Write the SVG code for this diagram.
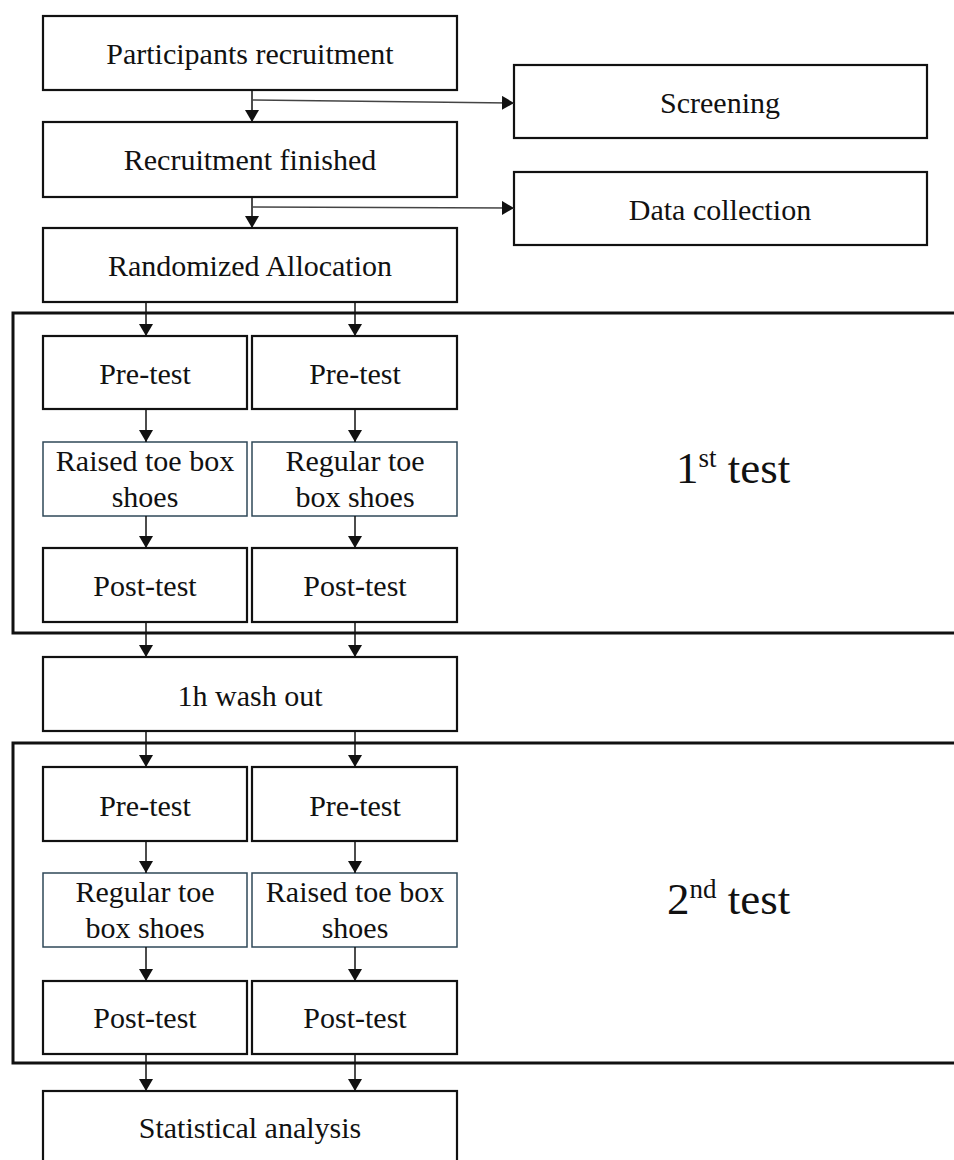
<svg xmlns="http://www.w3.org/2000/svg" width="954" height="1160" viewBox="0 0 954 1160">
<style>
.box{fill:#fff;stroke:#111;stroke-width:2.2}
.sbox{fill:#fff;stroke:#2f4858;stroke-width:1.5}
.frame{fill:none;stroke:#111;stroke-width:3}
text{font-family:'Liberation Serif','Tinos','Times New Roman','DejaVu Serif',serif;fill:#111}
.t{font-size:30px;text-anchor:middle}
.big{font-size:45px}
.c{stroke:#111;stroke-width:1.5;fill:none;marker-end:url(#ah)}
.cg{stroke:#444;stroke-width:1.5;fill:none;marker-end:url(#ah)}
</style>
<defs>
<marker id="ah" markerUnits="userSpaceOnUse" markerWidth="13" markerHeight="14" refX="12" refY="7" orient="auto">
<path d="M0,0 L12,7 L0,14 z" fill="#111"/>
</marker>
</defs>
<rect width="954" height="1160" fill="#fff"/>
<g id="frame1"><rect class="frame" x="13" y="313" width="950" height="320"/><text class="big" x="676" y="483" font-family="Liberation Serif, DejaVu Serif, serif">1<tspan font-size="27" dy="-16">st</tspan><tspan dy="16"> test</tspan></text></g>
<g id="frame2"><rect class="frame" x="13" y="743" width="950" height="320"/><text class="big" x="667" y="914" font-family="Liberation Serif, DejaVu Serif, serif">2<tspan font-size="27" dy="-16">nd</tspan><tspan dy="16"> test</tspan></text></g>
<g id="participants"><rect class="box" x="43" y="16" width="414" height="74"/><text class="t" x="250" y="64">Participants recruitment</text></g>
<g id="screening"><rect class="box" x="514" y="65" width="413" height="73"/><text class="t" x="720" y="113">Screening</text></g>
<g id="finished"><rect class="box" x="43" y="122" width="414" height="75"/><text class="t" x="250" y="170">Recruitment finished</text></g>
<g id="datacollection"><rect class="box" x="514" y="172" width="413" height="73"/><text class="t" x="720" y="220">Data collection</text></g>
<g id="randomized"><rect class="box" x="43" y="228" width="414" height="74"/><text class="t" x="250" y="276">Randomized Allocation</text></g>
<g id="pre1a"><rect class="box" x="43" y="336" width="204" height="73"/><text class="t" x="145" y="384">Pre-test</text></g>
<g id="pre1b"><rect class="box" x="252" y="336" width="205" height="73"/><text class="t" x="355" y="384">Pre-test</text></g>
<g id="shoes1a"><rect class="sbox" x="43" y="442" width="204" height="74"/><text class="t" x="145" y="471">Raised toe box</text><text class="t" x="145" y="507">shoes</text></g>
<g id="shoes1b"><rect class="sbox" x="252" y="442" width="205" height="74"/><text class="t" x="355" y="471">Regular toe</text><text class="t" x="355" y="507">box shoes</text></g>
<g id="post1a"><rect class="box" x="43" y="548" width="204" height="74"/><text class="t" x="145" y="596">Post-test</text></g>
<g id="post1b"><rect class="box" x="252" y="548" width="205" height="74"/><text class="t" x="355" y="596">Post-test</text></g>
<g id="washout"><rect class="box" x="43" y="657" width="414" height="74"/><text class="t" x="250" y="706">1h wash out</text></g>
<g id="pre2a"><rect class="box" x="43" y="767" width="204" height="74"/><text class="t" x="145" y="816">Pre-test</text></g>
<g id="pre2b"><rect class="box" x="252" y="767" width="205" height="74"/><text class="t" x="355" y="816">Pre-test</text></g>
<g id="shoes2a"><rect class="sbox" x="43" y="873" width="204" height="74"/><text class="t" x="145" y="902">Regular toe</text><text class="t" x="145" y="938">box shoes</text></g>
<g id="shoes2b"><rect class="sbox" x="252" y="873" width="205" height="74"/><text class="t" x="355" y="902">Raised toe box</text><text class="t" x="355" y="938">shoes</text></g>
<g id="post2a"><rect class="box" x="43" y="981" width="204" height="73"/><text class="t" x="145" y="1028">Post-test</text></g>
<g id="post2b"><rect class="box" x="252" y="981" width="205" height="73"/><text class="t" x="355" y="1028">Post-test</text></g>
<g id="stats"><rect class="box" x="43" y="1091" width="414" height="90"/><text class="t" x="250" y="1138">Statistical analysis</text></g>
<g id="connectors">
<path class="c" d="M252,90 V122"/>
<path class="c" d="M252,197 V228"/>
<path class="cg" d="M252,100 L514,103"/>
<path class="cg" d="M252,207 L514,208"/>
<path class="c" d="M146,302 V336"/>
<path class="c" d="M355,302 V336"/>
<path class="c" d="M146,409 V442"/>
<path class="c" d="M355,409 V442"/>
<path class="c" d="M146,516 V548"/>
<path class="c" d="M355,516 V548"/>
<path class="c" d="M146,622 V657"/>
<path class="c" d="M355,622 V657"/>
<path class="c" d="M146,731 V767"/>
<path class="c" d="M355,731 V767"/>
<path class="c" d="M146,841 V873"/>
<path class="c" d="M355,841 V873"/>
<path class="c" d="M146,947 V981"/>
<path class="c" d="M355,947 V981"/>
<path class="c" d="M146,1054 V1091"/>
<path class="c" d="M355,1054 V1091"/>
</g>
</svg>
